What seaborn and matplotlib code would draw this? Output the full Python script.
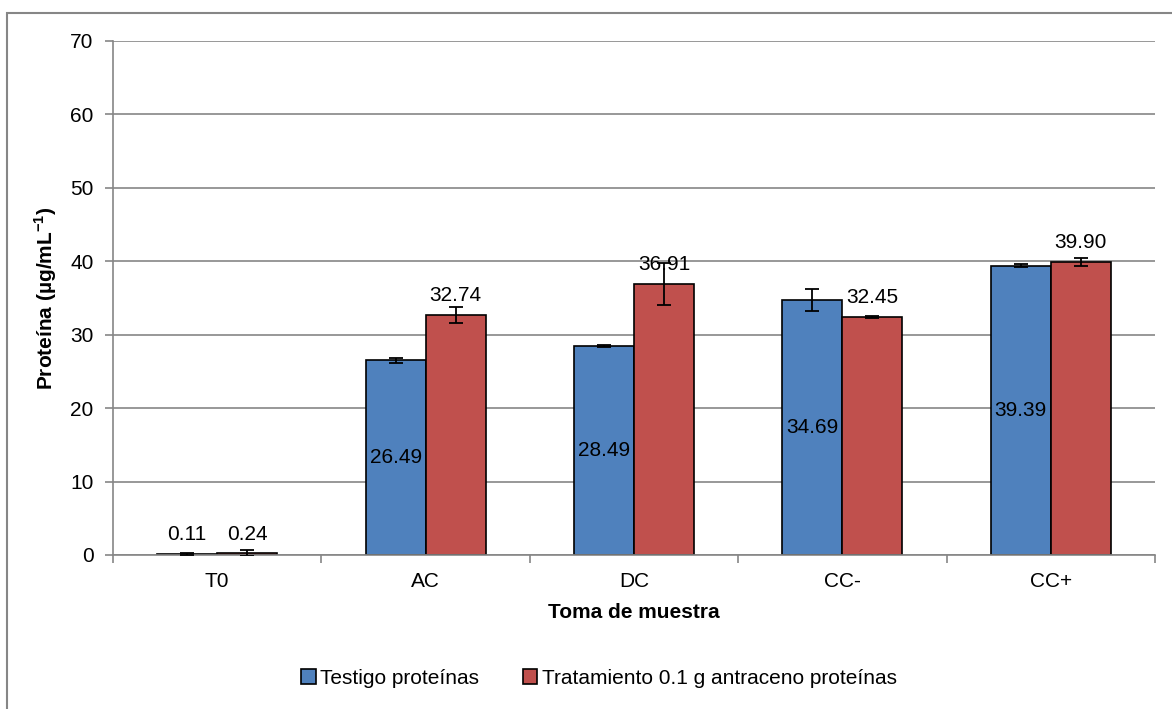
import pandas as pd
import matplotlib.pyplot as plt
import seaborn as sns
from matplotlib.patches import Rectangle

# ---------------------------
# Data
# ---------------------------
tomas = ["T0", "AC", "DC", "CC-", "CC+"]
testigo = [0.11, 26.49, 28.49, 34.69, 39.39]
tratamiento = [0.24, 32.74, 36.91, 32.45, 39.90]
err_testigo = [0.10, 0.30, 0.10, 1.50, 0.20]
err_tratamiento = [0.40, 1.10, 2.90, 0.15, 0.60]
series = ["Testigo proteínas", "Tratamiento 0.1 g antraceno proteínas"]

df = pd.DataFrame({
    "toma": tomas * 2,
    "valor": testigo + tratamiento,
    "serie": [series[0]] * len(tomas) + [series[1]] * len(tomas),
})

sns.set_style("white")
plt.rcParams["font.family"] = ["Liberation Sans", "DejaVu Sans"]
plt.rcParams["mathtext.fontset"] = "custom"
plt.rcParams["mathtext.rm"] = "Liberation Sans"
plt.rcParams["mathtext.bf"] = "Liberation Sans:bold"
for k in ["text.color", "axes.labelcolor", "xtick.color", "ytick.color"]:
    plt.rcParams[k] = "black"

blue, red = "#4F81BD", "#C0504D"
grid_c = "#868686"
fs = 15

fig = plt.figure(figsize=(11.72, 7.09), dpi=100)
W, H = 1172, 709
ax = fig.add_axes([113 / W, 1 - 555 / H, (1155 - 113) / W, (555 - 41) / H])

sns.barplot(data=df, x="toma", y="valor", hue="serie", palette=[blue, red],
            width=0.576, edgecolor="black", linewidth=1.2, ax=ax,
            legend=True, saturation=1)

# error bars + labels
errs = [err_testigo, err_tratamiento]
bar_conts = list(ax.containers)
for i, cont in enumerate(bar_conts):
    xs = [p.get_x() + p.get_width() / 2 for p in cont.patches]
    hs = [p.get_height() for p in cont.patches]
    ax.errorbar(xs, hs, yerr=errs[i], fmt="none", ecolor="black",
                elinewidth=1.3, capsize=5, capthick=1.3, zorder=5)
    for j, (x, h) in enumerate(zip(xs, hs)):
        if i == 0 and j > 0:
            ax.text(x, h / 2, f"{h:.2f}", ha="center", va="center",
                    fontsize=fs, zorder=6)
        else:
            ax.annotate(f"{h:.2f}", (x, h), xytext=(0, 7),
                        textcoords="offset points", ha="center",
                        va="bottom", fontsize=fs, zorder=6)

ax.set_ylim(0, 70)
ax.set_yticks(range(0, 71, 10))
ax.set_xlim(-0.5, len(tomas) - 0.5)
ax.grid(axis="y", color=grid_c, linewidth=1.2)
ax.set_axisbelow(True)
for s in ["top", "right"]:
    ax.spines[s].set_visible(False)
for s in ["left", "bottom"]:
    ax.spines[s].set_color(grid_c)
    ax.spines[s].set_linewidth(1.2)

# category boundary ticks as in Excel
ax.set_xticks(range(len(tomas)))
ax.set_xticklabels(tomas)
ax.set_xticks([k - 0.5 for k in range(len(tomas) + 1)], minor=True)
ax.tick_params(axis="x", which="major", length=0, labelsize=fs, pad=12)
ax.tick_params(axis="x", which="minor", length=6, width=1.2, color=grid_c,
               direction="out", bottom=True)
ax.tick_params(axis="y", length=6, width=1.2, color=grid_c, direction="out",
               left=True, labelsize=fs, pad=8)

ax.set_xlabel("Toma de muestra", fontsize=fs, fontweight="bold", labelpad=9)
ax.set_ylabel(r"Proteína (µg/mL$^{\mathbf{-1}}$)", fontsize=fs,
              fontweight="bold", labelpad=8)

ax.legend_.remove()
handles = [Rectangle((0, 0), 1, 1, facecolor=c, edgecolor="black", lw=1.2)
           for c in (blue, red)]
fig.legend(handles, series, loc="center", bbox_to_anchor=(599 / W, 1 - 678 / H),
           ncol=2, frameon=False, fontsize=fs, handlelength=0.7,
           handleheight=0.7, handletextpad=0.2, columnspacing=2.1)

# chart area border
fig.patches.append(Rectangle((7 / W, -0.1), 1.2, 1 - 13 / H + 0.1,
                             transform=fig.transFigure, fill=False,
                             edgecolor=grid_c, linewidth=1.5))

fig.savefig("out.png", dpi=100)
